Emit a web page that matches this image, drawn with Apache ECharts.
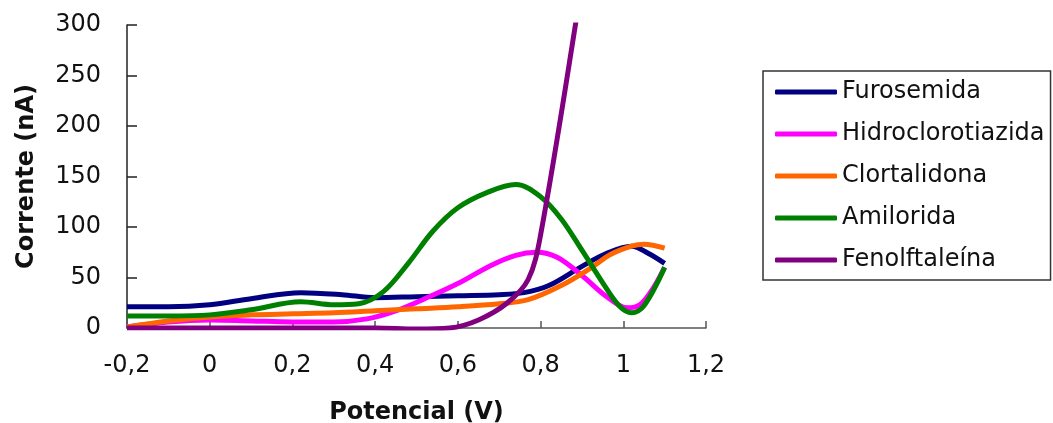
<!DOCTYPE html>
<html>
<head>
<meta charset="utf-8">
<script src="https://cdn.jsdelivr.net/npm/echarts@6/dist/echarts.min.js"></script>
<style>
  html, body { margin: 0; padding: 0; background: #fff; }
  #chart { width: 1053px; height: 423px; }
</style>
</head>
<body>
<div id="chart"></div>
<script>
// データ: [電位 (V), 電流 (nA)]
const furosemida = [
  [-0.2, 21], [-0.1, 21], [0, 23], [0.1, 29], [0.22, 35], [0.32, 33], [0.4, 30],
  [0.5, 31], [0.6, 32], [0.7, 33], [0.76, 35], [0.82, 42], [0.9, 61], [0.96, 74],
  [1.02, 81], [1.06, 74], [1.1, 64]
];
const hidroclorotiazida = [
  [-0.2, 1], [-0.1, 6], [0, 8], [0.1, 7], [0.2, 6], [0.3, 6], [0.38, 9], [0.45, 17],
  [0.52, 29], [0.6, 44], [0.68, 62], [0.74, 72], [0.79, 75], [0.84, 70], [0.9, 52],
  [0.96, 31], [1.01, 20], [1.04, 23], [1.07, 38], [1.1, 60]
];
const clortalidona = [
  [-0.2, 1], [-0.1, 7], [0, 11], [0.1, 13], [0.2, 14], [0.3, 15], [0.4, 17], [0.5, 19],
  [0.6, 21], [0.7, 24], [0.77, 28], [0.85, 42], [0.92, 59], [0.97, 73], [1.02, 81],
  [1.05, 83], [1.1, 79]
];
const amilorida = [
  [-0.2, 12], [-0.1, 12], [0, 13], [0.1, 18], [0.22, 26], [0.3, 23], [0.36, 24],
  [0.42, 36], [0.48, 64], [0.54, 96], [0.6, 119], [0.67, 134], [0.74, 142],
  [0.8, 130], [0.85, 108], [0.9, 77], [0.95, 45], [0.99, 22], [1.02, 15], [1.05, 22],
  [1.1, 60]
];
const fenolftaleina = [
  [-0.2, 0], [0, 0], [0.2, 0], [0.4, 0], [0.5, -1], [0.58, 0], [0.65, 8], [0.72, 25],
  [0.77, 48], [0.8, 92], [0.885, 302], [0.92, 400]
];

const seriesNames = ['Furosemida', 'Hidroclorotiazida', 'Clortalidona', 'Amilorida', 'Fenolftaleína'];
const seriesData = [furosemida, hidroclorotiazida, clortalidona, amilorida, fenolftaleina];
const colors = ['#000080', '#ff00ff', '#ff6600', '#008000', '#800080'];

const chart = echarts.init(document.getElementById('chart'));

const option = {
  animation: false,
  color: colors,
  grid: { left: 127, right: 347, top: 25, bottom: 95, outerBoundsMode: 'none', containLabel: false },
  legend: {
    orient: 'vertical',
    left: 763,
    top: 71,
    padding: [9, 6, 8, 12],
    itemGap: 18,
    itemWidth: 62,
    itemHeight: 5,
    icon: 'roundRect',
    borderColor: '#333',
    borderWidth: 1.5,
    textStyle: { fontFamily: 'DejaVu Sans', fontSize: 24, color: '#111', lineHeight: 24 },
    data: seriesNames
  },
  xAxis: {
    type: 'value',
    min: -0.2,
    max: 1.2,
    interval: 0.2,
    name: 'Potencial (V)',
    nameLocation: 'middle',
    nameGap: 73,
    nameTextStyle: { fontFamily: 'DejaVu Sans', fontWeight: 'bold', fontSize: 24, color: '#111' },
    axisLine: { onZero: false, lineStyle: { color: '#555', width: 1.5 } },
    axisTick: { inside: true, length: 7, lineStyle: { color: '#555', width: 1.5 } },
    axisLabel: {
      margin: 26,
      fontFamily: 'DejaVu Sans',
      fontSize: 24,
      color: '#111',
      formatter: v => String(+v.toFixed(1)).replace('.', ',')
    },
    splitLine: { show: false }
  },
  yAxis: {
    type: 'value',
    min: 0,
    max: 300,
    interval: 50,
    name: 'Corrente (nA)',
    nameLocation: 'middle',
    nameGap: 88,
    nameTextStyle: { fontFamily: 'DejaVu Sans', fontWeight: 'bold', fontSize: 24, color: '#111' },
    axisLine: { show: true, onZero: false, lineStyle: { color: '#222', width: 1.5 } },
    axisTick: { show: true, inside: true, length: 10, lineStyle: { color: '#222', width: 1.5 } },
    axisLabel: { margin: 26, fontFamily: 'DejaVu Sans', fontSize: 24, color: '#111' },
    splitLine: { show: false }
  },
  series: seriesNames.map((name, i) => ({
    name: name,
    type: 'line',
    data: seriesData[i],
    smooth: 0.35,
    symbol: 'none',
    clip: true,
    lineStyle: { width: 5, color: colors[i] }
  }))
};

chart.setOption(option);
window.addEventListener('resize', chart.resize);
</script>
</body>
</html>
